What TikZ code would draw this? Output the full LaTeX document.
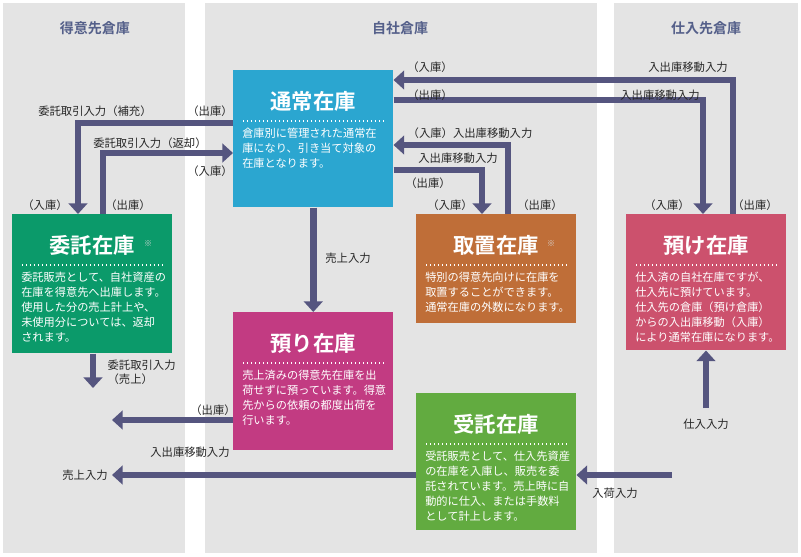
\documentclass[tikz,border=0pt]{standalone}
\usepackage{fontspec}
\newfontfamily\jp{Noto Sans CJK JP}
\newfontfamily\jpb{Noto Sans CJK JP Bold}
\usetikzlibrary{arrows.meta,calc}
\definecolor{panel}{HTML}{E4E4E4}
\definecolor{flowc}{HTML}{55557F}
\definecolor{headc}{HTML}{55608A}
\definecolor{tsujoc}{HTML}{2BA6D0}
\definecolor{itakuc}{HTML}{0B9A6A}
\definecolor{toriokic}{HTML}{BF6E38}
\definecolor{azukec}{HTML}{CC516D}
\definecolor{azukaric}{HTML}{C23B82}
\definecolor{jutakuc}{HTML}{62AB40}
\tikzset{
  box/.style={draw=none, minimum width=120pt, inner sep=0pt},
  boxtitle/.style={text=white, font=\jpb\fontsize{16}{18}\selectfont},
  boxbody/.style={text=white, align=left, inner sep=0pt, font=\jp\fontsize{8.4}{11.2}\selectfont},
  note/.style={text=white!85!black, font=\jp\fontsize{6}{7}\selectfont},
  head/.style={text=headc, font=\jpb\fontsize{10.5}{12}\selectfont},
  lab/.style={text=black!85, inner sep=1pt, font=\jp\fontsize{8.5}{10.5}\selectfont},
  flow/.style={draw=flowc, line width=5pt, -{Triangle[width=14pt,length=8pt]}},
}
\newcommand\stockbox[7]{%
  \node[box, fill=#5, minimum height=#4*0.75pt, anchor=north west] (#1) at (#2,#3) {};
  \node[boxtitle] (#1-t) at ($(#1.north)+(0,31)$) {#6};
  \draw[white, dotted, line width=1pt] ($(#1.north west)+(10,51)$) -- ($(#1.north east)+(-10,51)$);
  \node[boxbody, anchor=north west] (#1-b) at ($(#1.north west)+(9,58)$) {#7};
}
\begin{document}
\begin{tikzpicture}[x=0.75pt,y=-0.75pt]
  \useasboundingbox (0,0) rectangle (801,557);
  % panels
  \fill[panel] (3,3) rectangle (185,553);
  \fill[panel] (205,3) rectangle (597,553);
  \fill[panel] (614,3) rectangle (798,553);
  \node[head] (h1) at (95,28) {得意先倉庫};
  \node[head] (h2) at (400,28) {自社倉庫};
  \node[head] (h3) at (706,28) {仕入先倉庫};

  % stock boxes
  \stockbox{tsujo}{233}{70}{137}{tsujoc}{通常在庫}{倉庫別に管理された通常在\\庫になり、引き当て対象の\\在庫となります。}
  \stockbox{itaku}{12}{214}{139}{itakuc}{委託在庫}{委託販売として、自社資産の\\在庫を得意先へ出庫します。\\使用した分の売上計上や、\\未使用分については、返却\\されます。}
  \stockbox{torioki}{416}{214}{109}{toriokic}{取置在庫}{特別の得意先向けに在庫を\\取置することができます。\\通常在庫の外数になります。}
  \stockbox{azuke}{626}{214}{136}{azukec}{預け在庫}{仕入済の自社在庫ですが、\\仕入先に預けています。\\仕入先の倉庫（預け倉庫）\\からの入出庫移動（入庫）\\により通常在庫になります。}
  \stockbox{azukari}{233}{312}{138}{azukaric}{預り在庫}{売上済みの得意先在庫を出\\荷せずに預っています。得意\\先からの依頼の都度出荷を\\行います。}
  \stockbox{jutaku}{416}{393}{137}{jutakuc}{受託在庫}{受託販売として、仕入先資産\\の在庫を入庫し、販売を委\\託されています。売上時に自\\動的に仕入、または手数料\\として計上します。}
  \node[note] (itaku-m) at (148,244) {※};
  \node[note] (torioki-m) at (551,244) {※};

  % free ends
  \coordinate (out1) at (112,420);
  \coordinate (out2) at (112,475);
  \coordinate (out3) at (93,388);
  \coordinate (shiire) at (706,408);
  \coordinate (nyuka) at (672,475);

  % flows
  \draw[flow] ($(azuke.north west)+(107,0)$) |- ($(tsujo.north east)+(0,10)$);
  \draw[flow] ($(tsujo.north east)+(0,30)$) -| ($(azuke.north west)+(77,0)$);
  \draw[flow] ($(torioki.north west)+(92,0)$) |- ($(tsujo.north east)+(0,75)$);
  \draw[flow] ($(tsujo.north east)+(0,100)$) -| ($(torioki.north west)+(66,0)$);
  \draw[flow] ($(tsujo.north west)+(0,53)$) -| ($(itaku.north west)+(66,0)$);
  \draw[flow] ($(itaku.north west)+(91,0)$) |- ($(tsujo.north west)+(0,83)$);
  \draw[flow] (tsujo.south) -- (azukari.north);
  \draw[flow] ($(itaku.south west)+(81,0)$) -- (out3);
  \draw[flow] ($(azukari.north west)+(0,108)$) -- (out1);
  \draw[flow] ($(jutaku.north west)+(0,82)$) -- (out2);
  \draw[flow] (shiire) -- (azuke.south -| shiire);
  \draw[flow] (nyuka) -- (jutaku.east |- nyuka);

  % labels
  \node[lab] (l1) at (430,67) {（入庫）};
  \node[lab] (l2) at (688,67) {入出庫移動入力};
  \node[lab] (l3) at (430,95) {（出庫）};
  \node[lab] (l4) at (660,95) {入出庫移動入力};
  \node[lab] (l5) at (470,133) {（入庫）入出庫移動入力};
  \node[lab] (l6) at (458,158) {入出庫移動入力};
  \node[lab] (l7) at (428,183) {（出庫）};
  \node[lab] (l8) at (450,205) {（入庫）};
  \node[lab] (l9) at (540,205) {（出庫）};
  \node[lab] (l10) at (667,205) {（入庫）};
  \node[lab] (l11) at (755,205) {（出庫）};
  \node[lab] (l12) at (95,111) {委託取引入力（補充）};
  \node[lab] (l13) at (210,111) {（出庫）};
  \node[lab] (l14) at (150,143) {委託取引入力（返却）};
  \node[lab] (l15) at (210,171) {（入庫）};
  \node[lab] (l16) at (45,205) {（入庫）};
  \node[lab] (l17) at (128,205) {（出庫）};
  \node[lab] (l18) at (348,258) {売上入力};
  \node[lab, align=left, anchor=west] (l19) at (106,372) {委託取引入力\\（売上）};
  \node[lab] (l20) at (213,410) {（出庫）};
  \node[lab] (l21) at (190,452) {入出庫移動入力};
  \node[lab] (l22) at (85,475) {売上入力};
  \node[lab] (l23) at (615,493) {入荷入力};
  \node[lab] (l24) at (706,424) {仕入入力};
\end{tikzpicture}
\end{document}
